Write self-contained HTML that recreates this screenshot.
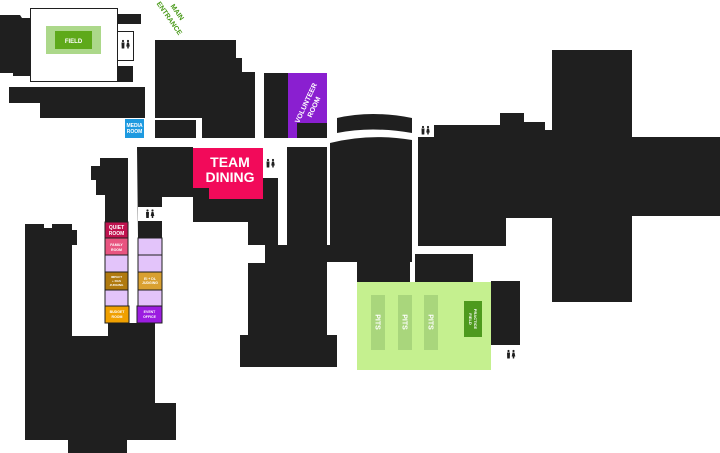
<!DOCTYPE html>
<html><head><meta charset="utf-8"><style>
html,body{margin:0;padding:0;background:#fff;}
svg{display:block;font-family:"Liberation Sans",sans-serif;font-weight:bold;}
</style></head><body>
<svg width="720" height="453" viewBox="0 0 720 453" xmlns="http://www.w3.org/2000/svg">
<defs>
<g id="wc" fill="#1f1f1f">
<circle cx="-2.5" cy="-4" r="1.1"/><polygon points="-4,-2.5 -1,-2.5 -1.2,3.5 -3.8,3.5"/>
<circle cx="2.5" cy="-4" r="1.1"/><polygon points="1.5,-2.5 3.5,-2.5 4.3,1.5 3.3,1.5 3.2,3.5 1.8,3.5 1.7,1.5 0.7,1.5"/>
</g>
</defs>
<g fill="#1f1f1f">
<polygon points="0,15 20,15 22,18 30,18 30,76 13,76 13,73 0,73"/>
<rect x="117" y="14" width="24" height="10"/>
<rect x="117" y="66" width="16" height="16"/>
<polygon points="9,87 145,87 145,118 40,118 40,103 9,103"/>
<rect x="155" y="40" width="10" height="78"/>
<polygon points="165,40 236,40 236,58 242,58 242,72 255,72 255,138 202,138 202,118 165,118"/>
<rect x="155" y="120" width="41" height="18"/>
<rect x="264" y="73" width="24" height="65"/>
<path d="M337,118 Q372,110 412,118 L412,133 Q372,126 337,133 Z"/>
<polygon points="91,166 100,166 100,158 128,158 128,222 105,222 105,195 96,195 96,180 91,180"/>
<polygon points="137,147 193,147 193,197 162,197 162,238 138,238"/>
<rect x="105" y="200" width="23" height="22"/>
<polygon points="193,188 209,188 209,199 262,199 262,178 278,178 278,245 248,245 248,222 193,222"/>
<rect x="287" y="147" width="40" height="98"/>
<path d="M330,143 Q370,133 412,140 L412,262 L327,262 L327,245 L330,245 Z"/>
<polygon points="25,224 44,224 44,228 52,228 52,224 72,224 72,230 77,230 77,245 72,245 72,336 108,336 108,323 155,323 155,403 176,403 176,440 127,440 127,453 68,453 68,440 25,440"/>
<polygon points="265,245 327,245 327,335 337,335 337,367 240,367 240,335 248,335 248,263 265,263"/>
<rect x="357" y="257" width="53" height="25"/>
<rect x="415" y="254" width="58" height="28"/>
<rect x="491" y="281" width="29" height="64"/>
<polygon points="418,125 500,125 500,113 524,113 524,122 545,122 545,130 552,130 552,50 632,50 632,137 720,137 720,216 632,216 632,302 552,302 552,218 506,218 506,246 418,246"/>
</g>
<rect x="30.5" y="8.5" width="87" height="73" fill="#fff" stroke="#1f1f1f"/>
<rect x="46" y="26" width="55" height="28" fill="#acd88a"/>
<rect x="55" y="31" width="37" height="18" fill="#5ea91a"/>
<text x="73.5" y="43" font-size="6" fill="#fff" text-anchor="middle">FIELD</text>
<rect x="117.5" y="31.5" width="16" height="29" fill="#fff" stroke="#1f1f1f"/>
<use href="#wc" x="125.5" y="45"/>
<text x="162" y="6" font-size="7" fill="#4a9a1a" transform="rotate(55 166 14)">MAIN</text>
<text x="152" y="16" font-size="7" fill="#4a9a1a" transform="rotate(55 166 14)">ENTRANCE</text>
<rect x="125" y="119" width="19" height="19" fill="#1e9ae0"/>
<text x="134.5" y="127" font-size="5" fill="#fff" text-anchor="middle">MEDIA</text>
<text x="134.5" y="133" font-size="5" fill="#fff" text-anchor="middle">ROOM</text>
<polygon points="288,73 327,73 327,123 297,123 297,138 288,138" fill="#8a1fd0"/>
<rect x="297" y="123" width="30" height="15" fill="#1f1f1f"/>
<text x="308" y="104" font-size="7" fill="#fff" text-anchor="middle" transform="rotate(-65 308 104)">VOLUNTEER</text>
<text x="316" y="108" font-size="7" fill="#fff" text-anchor="middle" transform="rotate(-65 316 108)">ROOM</text>
<polygon points="193,148 263,148 263,199 209,199 209,188 193,188" fill="#f20a5a"/>
<text x="230" y="167" font-size="14" fill="#fff" text-anchor="middle">TEAM</text>
<text x="230" y="182" font-size="14" fill="#fff" text-anchor="middle">DINING</text>
<rect x="263" y="148" width="15" height="30" fill="#fff"/>
<use href="#wc" x="270.5" y="164"/>
<rect x="138" y="207" width="24" height="14" fill="#fff"/>
<use href="#wc" x="150" y="214.5"/>
<rect x="417" y="125" width="17" height="12" fill="#fff"/>
<use href="#wc" x="425.5" y="131"/>
<g stroke="#1f1f1f" stroke-width="1">
<rect x="105" y="222" width="23" height="16" fill="#c0134f"/>
<rect x="105" y="238" width="23" height="17" fill="#e85480"/>
<rect x="105" y="255" width="23" height="17" fill="#e3c4fa"/>
<rect x="105" y="272" width="23" height="18" fill="#b07a10"/>
<rect x="105" y="290" width="23" height="16" fill="#e3c4fa"/>
<rect x="105" y="306" width="24" height="17" fill="#f0a000"/>
<rect x="138" y="238" width="24" height="17" fill="#e3c4fa"/>
<rect x="138" y="255" width="24" height="17" fill="#e3c4fa"/>
<rect x="138" y="272" width="24" height="18" fill="#d9a030"/>
<rect x="138" y="290" width="24" height="16" fill="#e3c4fa"/>
<rect x="137" y="306" width="25" height="17" fill="#9b1de0"/>
</g>
<g fill="#fff" text-anchor="middle">
<text x="116.5" y="229" font-size="5">QUIET</text><text x="116.5" y="235" font-size="5">ROOM</text>
<text x="116.5" y="246" font-size="3.5">FAMILY</text><text x="116.5" y="251" font-size="3.5">ROOM</text>
<text x="116.5" y="278" font-size="3">IMPACT</text><text x="116.5" y="282" font-size="3">+ RAS</text><text x="116.5" y="286" font-size="3">JUDGING</text>
<text x="150" y="280" font-size="3.5">EI + DL</text><text x="150" y="284" font-size="3.5">JUDGING</text>
<text x="117" y="313" font-size="3.5">BUDGET</text><text x="117" y="318" font-size="3.5">ROOM</text>
<text x="149.5" y="313" font-size="3.5">EVENT</text><text x="149.5" y="318" font-size="3.5">OFFICE</text>
</g>
<rect x="357" y="282" width="134" height="88" fill="#c5f08f"/>
<rect x="371" y="295" width="14" height="55" fill="#a9d67c"/>
<rect x="398" y="295" width="14" height="55" fill="#a9d67c"/>
<rect x="424" y="295" width="14" height="55" fill="#a9d67c"/>
<g fill="#fff" font-size="7" text-anchor="middle">
<text transform="translate(378,322) rotate(90)" y="2.5">PITS</text>
<text transform="translate(405,322) rotate(90)" y="2.5">PITS</text>
<text transform="translate(431,322) rotate(90)" y="2.5">PITS</text>
</g>
<rect x="464" y="301" width="18" height="36" fill="#4e9a1e"/>
<text transform="translate(473,319) rotate(90)" fill="#fff" font-size="4" text-anchor="middle"><tspan x="0" y="-1">PRACTICE</tspan><tspan x="0" y="4">FIELD</tspan></text>
<rect x="492" y="345" width="28" height="20" fill="#fff"/>
<use href="#wc" x="511" y="355"/>
</svg>
</body></html>
